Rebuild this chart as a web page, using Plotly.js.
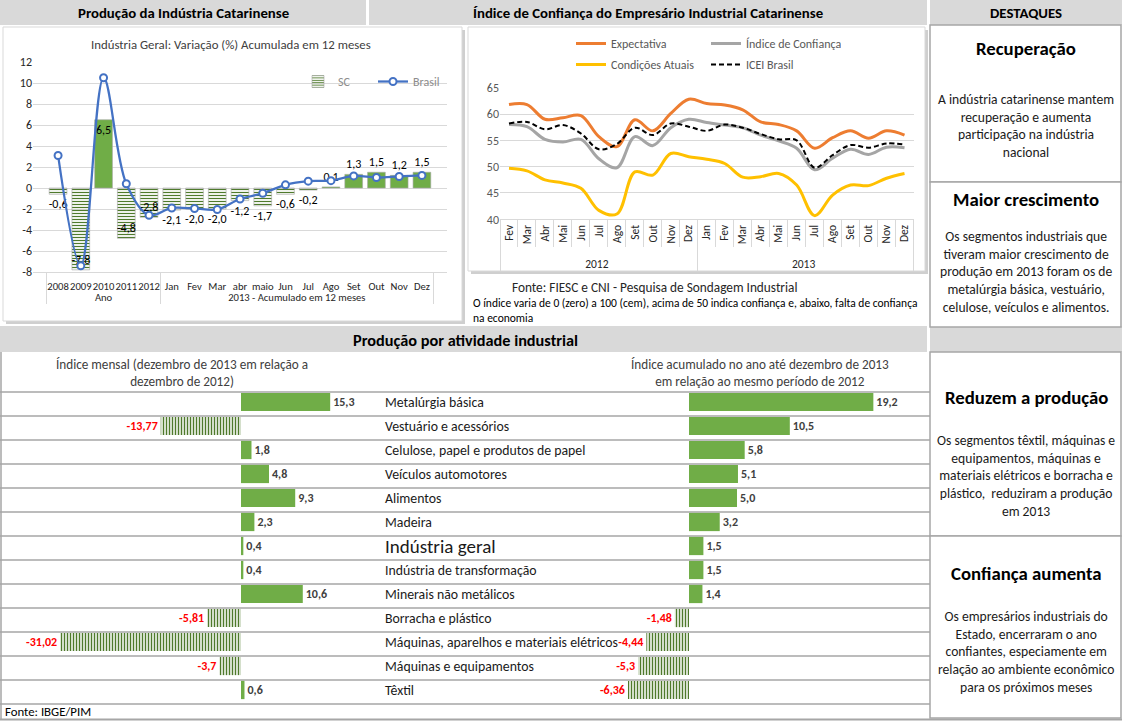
<!DOCTYPE html>
<html><head><meta charset="utf-8">
<script src="https://cdn.plot.ly/plotly-3.0.1.min.js"></script>
<style>html,body{margin:0;padding:0;background:#fff}#c{width:1122px;height:721px}</style>
</head><body><div id="c"></div>
<script>
// ---------------- DATA ----------------
const prodCats = ['2008','2009','2010','2011','2012','Jan','Fev','Mar','abr','maio','Jun','Jul','Ago','Set','Out','Nov','Dez'];
const prodGroups = ['Ano','Ano','Ano','Ano','Ano',
  '2013 - Acumulado em 12 meses','2013 - Acumulado em 12 meses','2013 - Acumulado em 12 meses','2013 - Acumulado em 12 meses',
  '2013 - Acumulado em 12 meses','2013 - Acumulado em 12 meses','2013 - Acumulado em 12 meses','2013 - Acumulado em 12 meses',
  '2013 - Acumulado em 12 meses','2013 - Acumulado em 12 meses','2013 - Acumulado em 12 meses','2013 - Acumulado em 12 meses'];
const scValues = [-0.6,-7.8,6.5,-4.8,-2.8,-2.1,-2.0,-2.0,-1.2,-1.7,-0.6,-0.2,0.1,1.3,1.5,1.2,1.5];
const brasilValues = [3.1,-7.4,10.5,0.4,-2.6,-1.9,-1.95,-2.05,-1.05,-0.5,0.3,0.65,0.7,1.15,1.0,1.1,1.2];
const prodYTicks = [-8,-6,-4,-2,0,2,4,6,8,10,12];

const iceiMonths = ['Fev','Mar','Abr','Mai','Jun','Jul','Ago','Set','Out','Nov','Dez',
  'Jan','Fev','Mar','Abr','Mai','Jun','Jul','Ago','Set','Out','Nov','Dez'];
const iceiYears = ['2012','2012','2012','2012','2012','2012','2012','2012','2012','2012','2012',
  '2013','2013','2013','2013','2013','2013','2013','2013','2013','2013','2013','2013'];
const expectativa = [61.8,61.8,59.0,59.3,59.7,55.7,53.8,58.9,56.8,60.1,62.8,62.0,61.7,60.8,58.5,58.0,56.8,53.5,55.5,56.8,55.4,56.8,56.0];
const indiceConfianca = [58.0,57.6,55.2,54.7,55.2,51.5,49.8,55.7,54.0,57.4,59.0,58.4,57.9,57.4,56.0,54.9,53.5,49.4,51.6,53.3,52.3,53.7,53.6];
const condicoesAtuais = [49.7,49.2,47.5,46.9,45.9,41.7,41.0,49.0,48.4,52.5,51.9,51.4,50.6,48.0,48.1,48.7,46.5,40.7,44.6,46.5,46.4,47.8,48.7];
const iceiBrasil = [58.2,58.5,57.1,57.9,56.3,53.3,54.3,57.4,56.0,58.2,57.6,56.8,58.0,57.4,56.2,55.2,55.0,49.8,52.2,54.1,53.6,54.4,54.2];

const segmentos = ['Metalúrgia básica','Vestuário e acessórios','Celulose, papel e produtos de papel','Veículos automotores',
  'Alimentos','Madeira','Indústria geral','Indústria de transformação','Minerais não metálicos','Borracha e plástico',
  'Máquinas, aparelhos e materiais elétricos','Máquinas e equipamentos','Têxtil'];
const indiceMensal = [15.3,-13.77,1.8,4.8,9.3,2.3,0.4,0.4,10.6,-5.81,-31.02,-3.7,0.6];
const indiceAcumulado = [19.2,10.5,5.8,5.1,5.0,3.2,1.5,1.5,1.4,-1.48,-4.44,-5.3,-6.36];

// ---------------- HELPERS ----------------
const W = 1122, H = 721;
const px = x => x / W;
const py = y => 1 - y / H;
const F = 'Carlito, Calibri, Lato, sans-serif';
const GREEN = '#70ad47', DGREEN = '#4f7a2c';
function fmt(v){
  const d = Math.abs(v*10 - Math.round(v*10)) < 1e-9 ? 1 : 2;
  return v.toFixed(d).replace('.', ',');
}
// keep inner labels unique per year so the multicategory axis keeps data order
const iceiInner = iceiMonths.map((m, i) => iceiYears[i] === '2013' ? m + '\u200b' : m);

// ---------------- TRACES ----------------
const traces = [];
traces.push({
  type:'bar', name:'SC', x:[prodGroups, prodCats], y:scValues, xaxis:'x', yaxis:'y', legend:'legend',
  width:0.78,
  marker:{color: scValues.map(v => v >= 0 ? GREEN : DGREEN),
    pattern:{shape: scValues.map(v => v < 0 ? '-' : ''), fillmode:'replace', size:3, solidity:0.4},
    line:{color:'#a6a6a6', width:0.6}},
  text: scValues.map(fmt),
  textposition: scValues.map(v => Math.abs(v) >= 2.5 ? 'inside' : 'outside'),
  insidetextanchor:'end', constraintext:'none', cliponaxis:false, textangle:0,
  textfont:{family:F, size:12, color:'#000'}, hoverinfo:'skip'
});
traces.push({
  type:'scatter', mode:'lines+markers', name:'Brasil', x:[prodGroups, prodCats], y:brasilValues, xaxis:'x', yaxis:'y', legend:'legend',
  line:{color:'#4472c4', width:2.25, shape:'spline', smoothing:1},
  marker:{symbol:'circle', size:7, color:'#ffffff', line:{color:'#4472c4', width:2}}, hoverinfo:'skip'
});
const iceiX = [iceiYears, iceiInner];
traces.push({type:'scatter', mode:'lines', name:'Expectativa', x:iceiX, y:expectativa, xaxis:'x2', yaxis:'y2', legend:'legend2',
  line:{color:'#ed7d31', width:3, shape:'spline', smoothing:1}, hoverinfo:'skip'});
traces.push({type:'scatter', mode:'lines', name:'Índice de Confiança', x:iceiX, y:indiceConfianca, xaxis:'x2', yaxis:'y2', legend:'legend2',
  line:{color:'#a5a5a5', width:3, shape:'spline', smoothing:1}, hoverinfo:'skip'});
traces.push({type:'scatter', mode:'lines', name:'Condições Atuais', x:iceiX, y:condicoesAtuais, xaxis:'x2', yaxis:'y2', legend:'legend3',
  line:{color:'#ffc000', width:3, shape:'spline', smoothing:1}, hoverinfo:'skip'});
traces.push({type:'scatter', mode:'lines', name:'ICEI Brasil', x:iceiX, y:iceiBrasil, xaxis:'x2', yaxis:'y2', legend:'legend3',
  line:{color:'#000000', width:2, dash:'5px,3px', shape:'spline', smoothing:1}, hoverinfo:'skip'});

function hbar(values, xa, ya){
  return {type:'bar', orientation:'h', y:segmentos, x:values, xaxis:xa, yaxis:ya, showlegend:false, width:0.76,
    marker:{color: values.map(v => v >= 0 ? GREEN : DGREEN),
      pattern:{shape: values.map(v => v < 0 ? '|' : ''), fillmode:'replace', size:3, solidity:0.5}},
    text: values.map(fmt), textposition:'outside', constraintext:'none', cliponaxis:false, textangle:0,
    textfont:{family:F, size:12, color: values.map(v => v < 0 ? '#ff0000' : '#404040'), weight:'bold'},
    hoverinfo:'skip'};
}
traces.push(hbar(indiceMensal, 'x3', 'y3'));
traces.push(hbar(indiceAcumulado, 'x4', 'y4'));

// ---------------- SHAPES ----------------
const shapes = [];
function rect(x0,y0,x1,y1,fill,lc,lw){
  shapes.push({type:'rect', xref:'paper', yref:'paper', x0:px(x0), x1:px(x1), y0:py(y1), y1:py(y0),
    fillcolor:fill, line:{color:lc || 'rgba(0,0,0,0)', width:lw || 0}, layer:'below'});
}
function seg(x0,y0,x1,y1,c,w){
  shapes.push({type:'line', xref:'paper', yref:'paper', x0:px(x0), x1:px(x1), y0:py(y0), y1:py(y1),
    line:{color:c, width:w}, layer:'below'});
}
// header bars
rect(0,0,366,25,'#d9d9d9'); rect(369,0,927,25,'#d9d9d9'); rect(930,0,1122,25,'#d9d9d9');
rect(0,326,927,352,'#d9d9d9'); rect(930,326,1122,352,'#d9d9d9');
// chart boxes with shadow
rect(6,30,465,324,'#cfcfcf'); rect(3,27,462,321,'#ffffff','#d9d9d9',1);
rect(471,30,928,274,'#cfcfcf'); rect(468,27,925,271,'#ffffff','#d9d9d9',1);
// right column cells
rect(930,25,1121,182,'#ffffff','#a6a6a6',1.5);
rect(930,182,1121,327,'#ffffff','#a6a6a6',1.5);
rect(930,352,1121,536,'#ffffff','#a6a6a6',1.5);
rect(930,536,1121,718,'#ffffff','#a6a6a6',1.5);
// table rows in lower section
for (let k = 0; k <= segmentos.length; k++) seg(0, 392 + 24*k, 930, 392 + 24*k, '#a6a6a6', 1.5);
seg(1,352,1,719,'#a6a6a6',1.5);
seg(0,719.5,1122,719.5,'#a6a6a6',2);

// ---------------- ANNOTATIONS ----------------
const ann = [];
function txt(x,y,t,size,opts){
  ann.push(Object.assign({xref:'paper', yref:'paper', x:px(x), y:py(y), text:t, showarrow:false,
    xanchor:'center', yanchor:'middle', font:{family:F, size:size, color:'#000'}}, opts || {}));
}
const B = s => ({font:{family:F, size:s, color:'#000', weight:'bold'}});
txt(183,13,'Produção da Indústria Catarinense',14.8,B(14.8));
txt(648,13,'Índice de Confiança do Empresário Industrial Catarinense',14.8,B(14.8));
txt(1026,13,'DESTAQUES',14.8,B(14.8));
txt(465,340,'Produção por atividade industrial',16.3,B(16.3));
txt(231,45,'Indústria Geral: Variação (%) Acumulada em 12 meses',12.8,{font:{family:F, size:12.8, color:'#404040'}});
txt(510,287,'Fonte: FIESC e CNI - Pesquisa de Sondagem Industrial',13.3,{xanchor:'left', font:{family:F, size:13.3, color:'#262626'}});
txt(471,303,'O índice varia de 0 (zero) a 100 (cem), acima de 50 indica confiança e, abaixo, falta de confiança',11.5,{xanchor:'left', font:{family:F, size:11.5, color:'#000'}});
txt(471,317.5,'na economia',11.5,{xanchor:'left', font:{family:F, size:11.5, color:'#000'}});
txt(182,373,'Índice mensal (dezembro de 2013 em relação a<br>dezembro de 2012)',13.2,{font:{family:F, size:13.2, color:'#404040'}});
txt(760,373,'Índice acumulado no ano até dezembro de 2013<br>em relação ao mesmo período de 2012',13.2,{font:{family:F, size:13.2, color:'#404040'}});
txt(3,711,'Fonte: IBGE/PIM',12.8,{xanchor:'left', font:{family:F, size:12.8, color:'#000'}});
// right column
const Bd = {font:{family:F, size:13.6, color:'#1a1a1a'}};
txt(1026,49,'Recuperação',18.8,B(18.8));
txt(1026,126,'A indústria catarinense mantem<br>recuperação e aumenta<br>participação na indústria<br>nacional',13.6,Bd);
txt(1026,199,'Maior crescimento',18.8,B(18.8));
txt(1026,272,'Os segmentos industriais que<br>tiveram maior crescimento de<br>produção em 2013 foram os de<br>metalúrgia básica, vestuário,<br>celulose, veículos e alimentos.',13.6,Bd);
txt(1026,397,'Reduzem a produção',18.8,B(18.8));
txt(1026,476,'Os segmentos têxtil, máquinas e<br>equipamentos, máquinas e<br>materiais elétricos e borracha e<br>plástico,  reduziram a produção<br>em 2013',13.6,Bd);
txt(1026,573,'Confiança aumenta',18.8,B(18.8));
txt(1026,652,'Os empresários industriais do<br>Estado, encerraram o ano<br>confiantes, especiamente em<br>relação ao ambiente econômico<br>para os próximos meses',13.6,Bd);
// row labels
segmentos.forEach((s, i) => {
  const big = s === 'Indústria geral';
  ann.push({xref:'paper', yref:'y3', x:px(383), y:i, text:s, showarrow:false, xanchor:'left', yanchor:'middle',
    font:{family:F, size: big ? 19 : 13.8, color:'#1a1a1a'}});
});

// ---------------- LAYOUT ----------------
const layout = {
  width:W, height:H, margin:{l:0, r:0, t:0, b:0},
  paper_bgcolor:'#ffffff', plot_bgcolor:'rgba(0,0,0,0)',
  font:{family:F}, showlegend:true,
  xaxis:{domain:[px(33), px(447)], anchor:'y', type:'multicategory', tickangle:0, showgrid:false, showline:true, linecolor:'#d9d9d9',
    ticks:'', ticklabelstandoff:4, showdividers:true, dividercolor:'#d9d9d9', dividerwidth:1,
    tickfont:{family:F, size:10.6, color:'#262626'}, fixedrange:true},
  yaxis:{domain:[py(272), py(62)], anchor:'x', range:[-8,12], tickvals:prodYTicks, ticktext:prodYTicks.map(String),
    gridcolor:'#d9d9d9', zeroline:false, showline:false, tickfont:{family:F, size:12, color:'#262626'}, fixedrange:true},
  xaxis2:{domain:[px(500), px(913.5)], anchor:'y2', type:'multicategory', range:[-0.5, 22.5], tickangle:-90, showgrid:false, showline:true,
    linecolor:'#d9d9d9', ticks:'outside', ticklen:27, tickcolor:'#d9d9d9', showdividers:true, dividercolor:'#d9d9d9',
    dividerwidth:1, tickfont:{family:F, size:11.5, color:'#262626'}, fixedrange:true},
  yaxis2:{domain:[py(219.3), py(87.7)], anchor:'x2', range:[40,65], dtick:5, gridcolor:'#d9d9d9', zeroline:false,
    showline:false, tickfont:{family:F, size:12, color:'#595959'}, fixedrange:true},
  xaxis3:{domain:[0, px(390)], anchor:'y3', range:[-41.34, 25.56], visible:false, fixedrange:true},
  yaxis3:{domain:[py(702), py(390)], anchor:'x3', type:'category', range:[12.5,-0.5], visible:false, fixedrange:true},
  xaxis4:{domain:[px(600), px(925)], anchor:'y4', range:[-9.27, 24.58], visible:false, fixedrange:true},
  yaxis4:{domain:[py(702), py(390)], anchor:'x4', type:'category', range:[12.5,-0.5], visible:false, fixedrange:true},
  legend:{x:px(298), y:py(67), xanchor:'left', yanchor:'top', orientation:'h', bgcolor:'rgba(0,0,0,0)',
    entrywidth:30, entrywidthmode:'pixels', font:{family:F, size:12, color:'#8c8c8c'}},
  legend2:{x:px(571), y:py(29), xanchor:'left', yanchor:'top', orientation:'h', bgcolor:'rgba(0,0,0,0)',
    entrywidth:90, entrywidthmode:'pixels', font:{family:F, size:12, color:'#595959'}},
  legend3:{x:px(571), y:py(50), xanchor:'left', yanchor:'top', orientation:'h', bgcolor:'rgba(0,0,0,0)',
    entrywidth:90, entrywidthmode:'pixels', font:{family:F, size:12, color:'#595959'}},
  shapes:shapes, annotations:ann
};
Plotly.newPlot('c', traces, layout, {staticPlot:true});
</script></body></html>
